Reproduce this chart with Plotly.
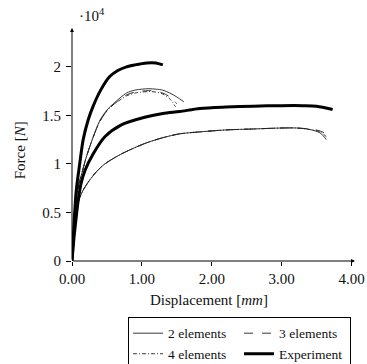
import plotly.graph_objects as go

# Upper group (experiment A and simulations)
exp_a_x = [0, 0.03, 0.06, 0.11, 0.16, 0.23, 0.30, 0.41, 0.54, 0.65, 0.78, 0.9, 1.07, 1.2, 1.3]
exp_a_y = [0, 0.40, 0.72, 1.00, 1.25, 1.45, 1.59, 1.76, 1.90, 1.96, 2.00, 2.02, 2.04, 2.04, 2.02]

sim2_a_x = [0, 0.03, 0.06, 0.1, 0.14, 0.2, 0.3, 0.4, 0.5, 0.6, 0.78, 0.9, 1.0, 1.1, 1.2, 1.3, 1.4, 1.5, 1.6]
sim2_a_y = [0, 0.35, 0.62, 0.80, 0.90, 1.06, 1.27, 1.45, 1.555, 1.625, 1.73, 1.76, 1.77, 1.775, 1.77, 1.76, 1.73, 1.69, 1.64]

sim3_a_x = [0, 0.03, 0.06, 0.1, 0.14, 0.2, 0.3, 0.4, 0.5, 0.6, 0.78, 0.9, 1.0, 1.1, 1.2, 1.3, 1.4, 1.5]
sim3_a_y = [0, 0.35, 0.62, 0.80, 0.90, 1.06, 1.27, 1.44, 1.545, 1.615, 1.71, 1.74, 1.75, 1.755, 1.75, 1.73, 1.69, 1.62]

sim4_a_x = [0, 0.03, 0.06, 0.1, 0.14, 0.2, 0.3, 0.4, 0.5, 0.6, 0.78, 0.9, 1.0, 1.1, 1.2, 1.3, 1.4, 1.48]
sim4_a_y = [0, 0.35, 0.62, 0.80, 0.90, 1.06, 1.27, 1.44, 1.545, 1.615, 1.70, 1.73, 1.74, 1.745, 1.74, 1.72, 1.67, 1.59]

# Lower group (experiment B and simulations)
exp_b_x = [0, 0.03, 0.06, 0.09, 0.13, 0.19, 0.3, 0.47, 0.7, 1.04, 1.3, 1.54, 1.83, 2.2, 2.6, 3.0, 3.3, 3.5, 3.73]
exp_b_y = [0, 0.25, 0.45, 0.63, 0.80, 0.94, 1.10, 1.28, 1.40, 1.48, 1.52, 1.54, 1.57, 1.585, 1.595, 1.60, 1.60, 1.595, 1.56]

sim2_b_x = [0, 0.03, 0.06, 0.1, 0.16, 0.25, 0.35, 0.47, 0.7, 1.04, 1.3, 1.54, 1.83, 2.2, 2.6, 3.0, 3.21, 3.4, 3.55, 3.64]
sim2_b_y = [0, 0.30, 0.50, 0.63, 0.73, 0.83, 0.92, 1.00, 1.10, 1.21, 1.27, 1.31, 1.33, 1.35, 1.36, 1.37, 1.37, 1.355, 1.32, 1.25]

sim3_b_x = [0, 0.03, 0.06, 0.1, 0.16, 0.25, 0.35, 0.47, 0.7, 1.04, 1.3, 1.54, 1.83, 2.2, 2.6, 3.0, 3.21, 3.4, 3.55, 3.66]
sim3_b_y = [0, 0.30, 0.50, 0.63, 0.73, 0.83, 0.92, 1.00, 1.10, 1.21, 1.27, 1.31, 1.33, 1.35, 1.36, 1.37, 1.37, 1.36, 1.34, 1.30]

sim4_b_x = [0, 0.03, 0.06, 0.1, 0.16, 0.25, 0.35, 0.47, 0.7, 1.04, 1.3, 1.54, 1.83, 2.2, 2.6, 3.0, 3.21, 3.4, 3.55, 3.64]
sim4_b_y = [0, 0.30, 0.50, 0.63, 0.73, 0.83, 0.92, 1.00, 1.10, 1.21, 1.27, 1.31, 1.33, 1.35, 1.36, 1.37, 1.37, 1.355, 1.33, 1.28]

x_ticks = [0, 1, 2, 3, 4]
x_tick_labels = ["0.00", "1.00", "2.00", "3.00", "4.00"]
y_ticks = [0, 0.5, 1, 1.5, 2]
y_tick_labels = ["0", "0.5", "1", "1.5", "2"]

FONT = "Liberation Serif"
TXT = "#111111"

fig = go.Figure()
series = [
    (sim2_a_x, sim2_a_y, "2 elements", "solid", True),
    (sim3_a_x, sim3_a_y, "3 elements", "dash", True),
    (sim4_a_x, sim4_a_y, "4 elements", "4px,2px,1px,2px", True),
    (exp_a_x, exp_a_y, "Experiment", "thick", True),
    (sim2_b_x, sim2_b_y, "2 elements", "solid", False),
    (sim3_b_x, sim3_b_y, "3 elements", "dash", False),
    (sim4_b_x, sim4_b_y, "4 elements", "4px,2px,1px,2px", False),
    (exp_b_x, exp_b_y, "Experiment", "thick", False),
]
for xs, ys, name, style, show in series:
    if style == "thick":
        line = dict(color="black", width=3, shape="spline", smoothing=0.8)
    else:
        line = dict(color="#222222", width=0.9, dash=style, shape="spline", smoothing=0.8)
    fig.add_trace(go.Scatter(x=xs, y=ys, mode="lines", name=name, line=line,
                             showlegend=show, legendgroup=name))

fig.update_layout(
    width=367, height=364,
    margin=dict(l=72, r=12, t=28, b=103, autoexpand=False),
    paper_bgcolor="white", plot_bgcolor="white",
    font=dict(family=FONT, size=15, color=TXT),
    showlegend=True,
    legend=dict(orientation="h", x=0.198, xanchor="left", y=-0.24, yanchor="top",
                bordercolor="black", borderwidth=1, bgcolor="white",
                entrywidth=66, entrywidthmode="pixels",
                font=dict(family=FONT, size=13.5, color=TXT), tracegroupgap=0,
                itemwidth=30),
)
fig.update_xaxes(range=[0, 4.05], tickvals=x_ticks, ticktext=x_tick_labels,
                 ticks="outside", ticklen=4, tickcolor="black", showgrid=False,
                 zeroline=False, showline=False, automargin=False,
                 tickfont=dict(family=FONT, size=15, color=TXT))
fig.update_yaxes(range=[0, 2.4], tickvals=y_ticks, ticktext=y_tick_labels,
                 ticks="outside", ticklen=5, tickcolor="black", showgrid=False,
                 zeroline=False, showline=False, automargin=False,
                 ticklabelstandoff=2,
                 tickfont=dict(family=FONT, size=15, color=TXT))

# Axis arrows
fig.add_annotation(x=0, y=2.4, ax=0, ay=0, xref="x", yref="y", axref="x", ayref="y",
                   showarrow=True, arrowhead=2, arrowsize=0.8, arrowwidth=1, arrowcolor="black", text="")
fig.add_annotation(x=4.05, y=0, ax=0, ay=0, xref="x", yref="y", axref="x", ayref="y",
                   showarrow=True, arrowhead=2, arrowsize=0.8, arrowwidth=1, arrowcolor="black", text="")
# exponent label
fig.add_annotation(x=0.018, y=1.054, xref="paper", yref="paper", text="·10<sup>4</sup>", showarrow=False,
                   xanchor="left", yanchor="middle", font=dict(family=FONT, size=15, color=TXT))
# axis titles
fig.add_annotation(x=-0.184, y=0.475, xref="paper", yref="paper", text="Force [<i>N</i>]",
                   textangle=-90, showarrow=False, xanchor="center", yanchor="middle",
                   font=dict(family=FONT, size=15, color=TXT))
fig.add_annotation(x=0.484, y=-0.169, xref="paper", yref="paper", text="Displacement [<i>mm</i>]",
                   showarrow=False, xanchor="center", yanchor="middle",
                   font=dict(family=FONT, size=15, color=TXT))

# remove the browser's default 8px body margin so the figure fills the window exactly
fig.write_html("out.html", config={"displayModeBar": False},
               post_script="document.body.style.margin='0px';")
